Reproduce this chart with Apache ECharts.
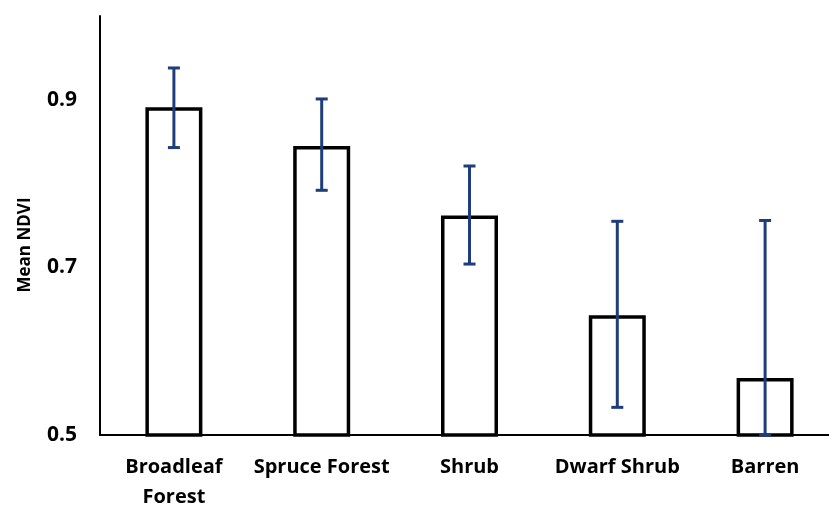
<!DOCTYPE html>
<html>
<head>
<meta charset="utf-8">
<script src="https://cdn.jsdelivr.net/npm/echarts@6/dist/echarts.min.js"></script>
<style>
  html, body { margin: 0; padding: 0; background: #fff; }
  #chart { width: 829px; height: 506px; }
</style>
</head>
<body>
<div id="chart"></div>
<script>
// Land-cover classes and their mean NDVI with error ranges
const categories = ['Broadleaf\nForest', 'Spruce Forest', 'Shrub', 'Dwarf Shrub', 'Barren'];
const meanNdvi = [0.891, 0.845, 0.762, 0.643, 0.568];
const errUpper = [0.938, 0.901, 0.821, 0.755, 0.756];
const errLower = [0.843, 0.792, 0.704, 0.533, 0.500];
const yTickLabels = [0.5, 0.7, 0.9];

const FONT = '"Open Sans", "Liberation Sans", sans-serif';
const chart = echarts.init(document.getElementById('chart'), null, { renderer: 'canvas' });

const errData = categories.map((c, i) => [i, errLower[i], errUpper[i]]);

chart.setOption({
  animation: false,
  backgroundColor: '#fff',
  grid: { left: 100, top: 16, width: 739, height: 419, containLabel: false, outerBoundsMode: 'none' },
  xAxis: {
    type: 'category',
    data: categories,
    axisLine: { lineStyle: { color: '#000', width: 2 } },
    axisTick: { show: false },
    axisLabel: {
      color: '#000', fontFamily: FONT, fontWeight: 'bold', fontSize: 20,
      lineHeight: 30, margin: 17, interval: 0
    }
  },
  yAxis: {
    type: 'value',
    min: 0.5, max: 1.0, interval: 0.1,
    axisLine: { show: true, lineStyle: { color: '#000', width: 2 } },
    axisTick: { show: false },
    splitLine: { show: false },
    axisLabel: {
      color: '#000', fontFamily: FONT, fontWeight: 'bold', fontSize: 21, margin: 23,
      formatter: function (v) {
        const r = Math.round(v * 10) / 10;
        return yTickLabels.some(t => Math.abs(t - r) < 1e-9) ? r.toFixed(1) : '';
      }
    }
  },
  graphic: [{
    type: 'text',
    x: 25, y: 245, rotation: Math.PI / 2,
    style: {
      text: 'Mean NDVI', fill: '#000', font: 'bold 17px ' + FONT,
      align: 'center', verticalAlign: 'middle'
    }
  }],
  series: [
    {
      type: 'bar',
      data: meanNdvi,
      barWidth: 57,
      itemStyle: { color: '#fff', borderColor: '#000', borderWidth: 3.5 },
      z: 2
    },
    {
      type: 'custom',
      data: errData,
      z: 5,
      renderItem: function (params, api) {
        const i = api.value(0);
        const lo = api.coord([i, api.value(1)]);
        const hi = api.coord([i, api.value(2)]);
        const cap = 6;
        const style = { stroke: '#1F3D7A', lineWidth: 3 };
        return {
          type: 'group',
          children: [
            { type: 'line', shape: { x1: hi[0], y1: hi[1], x2: lo[0], y2: lo[1] }, style: style },
            { type: 'line', shape: { x1: hi[0] - cap, y1: hi[1], x2: hi[0] + cap, y2: hi[1] }, style: style },
            { type: 'line', shape: { x1: lo[0] - cap, y1: lo[1], x2: lo[0] + cap, y2: lo[1] }, style: style }
          ]
        };
      }
    }
  ]
});
</script>
</body>
</html>
